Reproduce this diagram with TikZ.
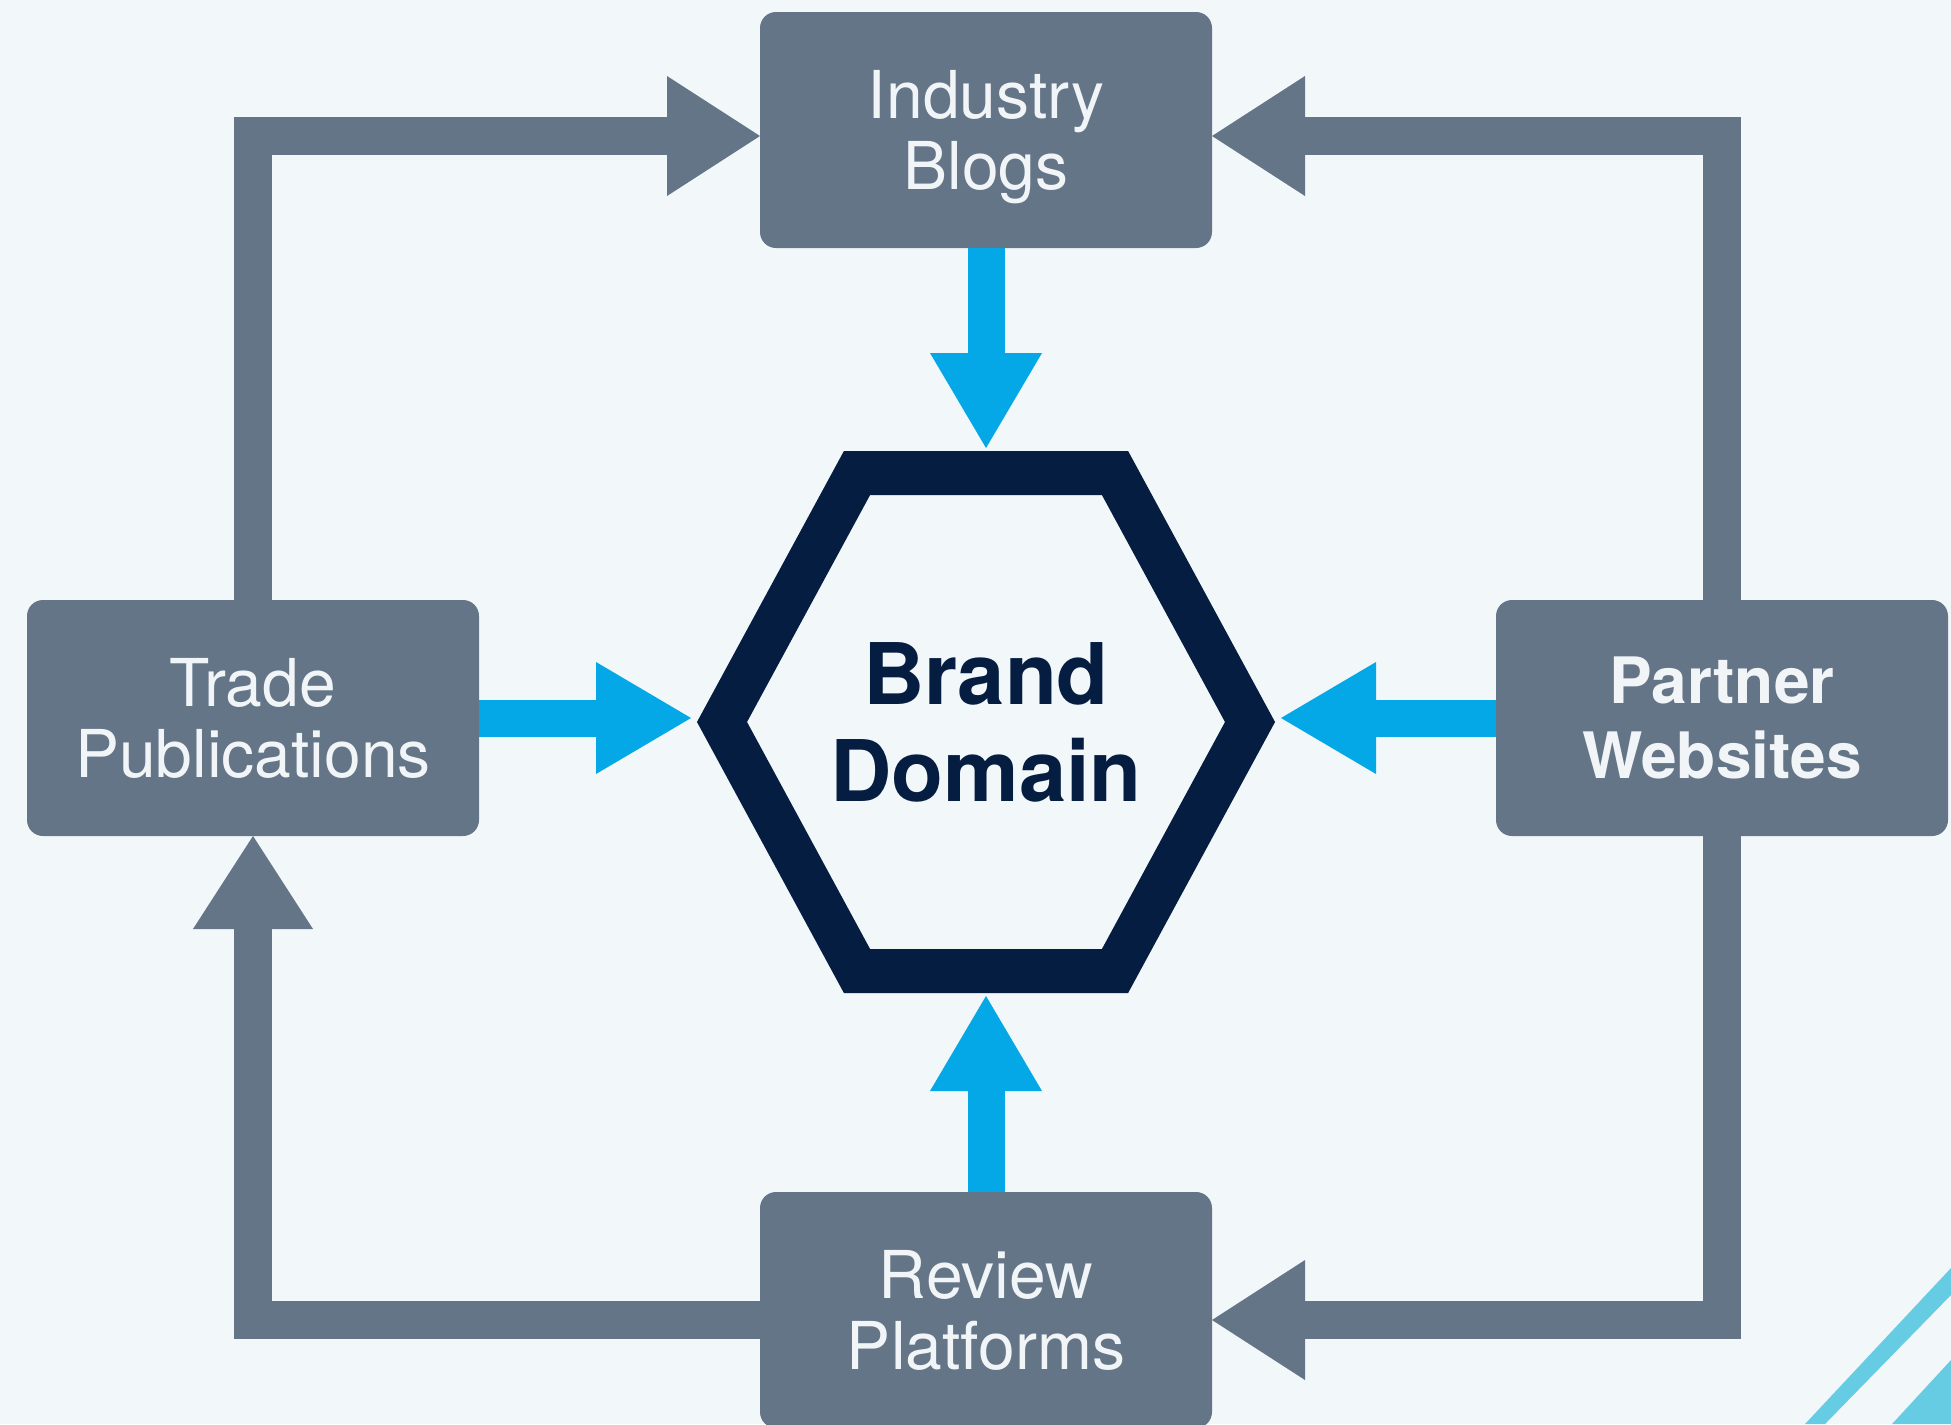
\documentclass[tikz,border=0pt]{standalone}
\usepackage{fontspec}
\setmainfont{TeX Gyre Heros}
\usetikzlibrary{arrows.meta}
\definecolor{paper}{HTML}{F2F7FA}
\definecolor{slate}{HTML}{637587}
\definecolor{skyblue}{HTML}{05A8E6}
\definecolor{navy}{HTML}{051D40}
\definecolor{stripe}{HTML}{66CCE4}
\definecolor{boxtext}{HTML}{F2F5F8}
\tikzset{
	srcbox/.style={fill=slate, rounded corners=16pt, minimum width=452pt, minimum height=236pt, inner sep=0pt, outer sep=0pt, align=center, text depth=0pt, text=boxtext, font=\fontsize{66}{71}\selectfont},
	feed/.style={draw=skyblue, line width=37pt, -{Triangle[length=95pt,width=112pt,line width=0pt]}},
	relay/.style={draw=slate, line width=38pt, -{Triangle[length=93pt,width=120pt,line width=0pt]}}
}

\begin{document}
\begin{tikzpicture}[x=1pt,y=-1pt]
	%%%%% START %%%%%
	\useasboundingbox (0,0) rectangle (1951,1424);
	\fill[paper] (0,0) rectangle (1951,1424);
	\clip (0,0) rectangle (1951,1424);
	
	\node[srcbox] (blogs) at (986,130) {Industry\\Blogs};
	\node[srcbox] (trade) at (253,718) {Trade\\Publications};
	\node[srcbox, font=\bfseries\fontsize{64}{75}\selectfont] (partner) at (1722,718) {Partner\\Websites};
	\node[srcbox] (review) at (986,1310) {Review\\Platforms};
	
	\node[minimum width=590pt, minimum height=548pt, inner sep=0pt, outer sep=0pt, align=center, text depth=0pt, text=navy, font=\bfseries\fontsize{85}{97}\selectfont] (brand) at (986,722) {Brand\\Domain};
	\draw[navy, line width=44pt, shift={(brand.center)}] (-264,0) -- (-129,-249) -- (129,-249) -- (264,0) -- (129,249) -- (-129,249) -- cycle;
	
	\draw[feed] (blogs) -- (brand);
	\draw[feed] (trade.east) -- (trade.east -| brand.west);
	\draw[feed] (partner.west) -- (partner.west -| brand.east);
	\draw[feed] (review) -- (brand);
	
	\draw[relay] (trade.north) |- ([yshift=-6pt]blogs.west);
	\draw[relay] (partner.north) |- ([yshift=-6pt]blogs.east);
	\draw[relay] (partner.south) |- ([yshift=-10pt]review.east);
	\draw[relay] ([yshift=-10pt]review.west) -| (trade.south);
	
	\fill[stripe] (1805,1424) -- (1951,1268) -- (1951,1295) -- (1825,1424) -- cycle;
	\fill[stripe] (1892,1424) -- (1951,1360) -- (1951,1424) -- cycle;
	%%%%% END %%%%%
\end{tikzpicture}
\end{document}
